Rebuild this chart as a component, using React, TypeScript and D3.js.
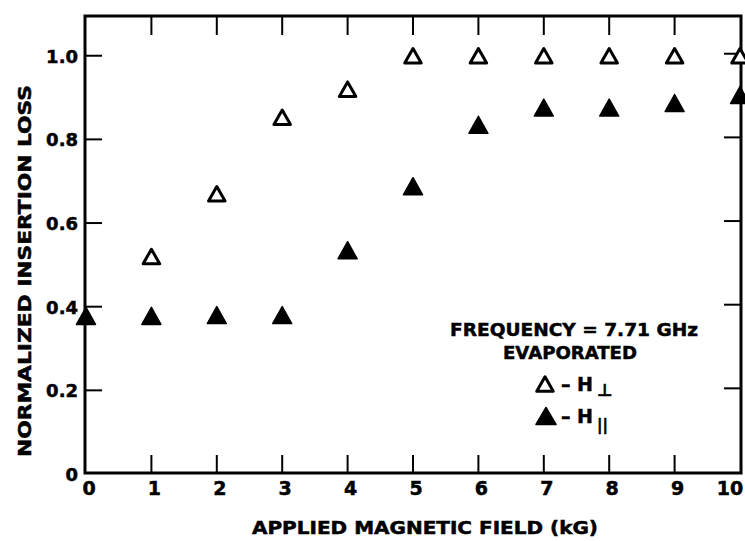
import React from "react";
import * as d3 from "d3";

const fieldKG = [0, 1, 2, 3, 4, 5, 6, 7, 8, 9, 10];
const hPerp = [null, 0.52, 0.67, 0.853, 0.92, 1.0, 1.0, 1.0, 1.0, 1.0, 1.0];
const hPar = [0.378, 0.378, 0.38, 0.38, 0.535, 0.688, 0.835, 0.876, 0.876, 0.887, 0.906];
const xTicks = [0, 1, 2, 3, 4, 5, 6, 7, 8, 9, 10];
const yTicks = [0, 0.2, 0.4, 0.6, 0.8, 1.0];
const yTickLabels = ["0", "0.2", "0.4", "0.6", "0.8", "1.0"];

const W = 745;
const H = 541;
const FONT = "'DejaVu Sans', 'Liberation Sans', Arial, sans-serif";

function tri(cx: number, cy: number, w: number, h: number): string {
  const p = d3.path();
  p.moveTo(cx, cy - h / 2);
  p.lineTo(cx + w / 2, cy + h / 2);
  p.lineTo(cx - w / 2, cy + h / 2);
  p.closePath();
  return p.toString();
}

export default function App() {
  const x = d3.scaleLinear().domain([0, 10]).range([86, 740]);
  const y = d3.scaleLinear().domain([0, 1.095]).range([474, 16]);
  const left = 85;
  const right = 741;
  const top = 16;
  const bottom = 473;
  const heavy = { stroke: "#000", strokeWidth: 0.5 };

  return (
    <svg width={W} height={H} style={{ position: "absolute", left: 0, top: 0, background: "#fff" }}>
      <rect x={0} y={0} width={W} height={H} fill="#fff" />
      {/* frame */}
      <rect x={left} y={top} width={right - left} height={bottom - top} fill="none" stroke="#000" strokeWidth={3} />
      {/* x ticks */}
      {xTicks.slice(1, -1).map((t) => (
        <g key={"xt" + t}>
          <line x1={x(t)} x2={x(t)} y1={bottom} y2={bottom - 18} stroke="#000" strokeWidth={2} />
          <line x1={x(t)} x2={x(t)} y1={top} y2={top + 19} stroke="#000" strokeWidth={2} />
        </g>
      ))}
      {xTicks.map((t) => (
        <text key={"xl" + t} x={Math.min(x(t) + 3, 730)} y={495} textAnchor="middle" fontFamily={FONT} fontWeight="bold" fontSize={19} fill="#000" {...heavy}>
          {t}
        </text>
      ))}
      {/* y ticks */}
      {yTicks.slice(1).map((t) => (
        <g key={"yt" + t}>
          <line x1={left} x2={left + 17} y1={y(t)} y2={y(t)} stroke="#000" strokeWidth={2} />
          <line x1={right} x2={right - 17} y1={y(t) - 2} y2={y(t) - 2} stroke="#000" strokeWidth={2} />
        </g>
      ))}
      {yTicks.map((t, i) => (
        <text key={"yl" + t} x={78} y={y(t) + 7} textAnchor="end" fontFamily={FONT} fontWeight="bold" fontSize={18} fill="#000" {...heavy}>
          {yTickLabels[i]}
        </text>
      ))}
      {/* axis titles */}
      <text x={425} y={534} textAnchor="middle" fontFamily={FONT} fontWeight="bold" fontSize={17} fill="#000" textLength={346} lengthAdjust="spacingAndGlyphs" {...heavy}>
        APPLIED MAGNETIC FIELD (kG)
      </text>
      <text
        transform={`translate(31, 271) rotate(-90)`}
        textAnchor="middle"
        fontFamily={FONT}
        fontWeight="bold"
        fontSize={17}
        fill="#000"
        textLength={372}
        lengthAdjust="spacingAndGlyphs"
        {...heavy}
      >
        NORMALIZED INSERTION LOSS
      </text>
      {/* data */}
      {fieldKG.map((f, i) =>
        hPerp[i] == null ? null : (
          <path key={"p" + f} d={tri(x(f), y(hPerp[i] as number), 16.5, 14.5)} fill="#fff" stroke="#000" strokeWidth={3} strokeLinejoin="round" />
        )
      )}
      {fieldKG.map((f, i) => (
        <path key={"f" + f} d={tri(x(f), y(hPar[i]), 19, 17)} fill="#000" stroke="#000" strokeWidth={1.5} strokeLinejoin="round" />
      ))}
      {/* legend */}
      <g fontFamily={FONT} fontWeight="bold" fill="#000" {...heavy}>
        <text x={574} y={336} textAnchor="middle" fontSize={18} textLength={248} lengthAdjust="spacingAndGlyphs">FREQUENCY = 7.71 GHz</text>
        <text x={570} y={359} textAnchor="middle" fontSize={18} textLength={134} lengthAdjust="spacingAndGlyphs">EVAPORATED</text>
        <path d={tri(545, 384, 16.5, 14.5)} fill="#fff" stroke="#000" strokeWidth={3} strokeLinejoin="round" />
        <text x={561} y={391} fontSize={19}>
          – H<tspan dx={4} dy={5} fontSize={17}>⊥</tspan>
        </text>
        <path d={tri(546, 416, 20, 17)} fill="#000" stroke="#000" strokeWidth={1.5} strokeLinejoin="round" />
        <text x={561} y={423} fontSize={19}>
          – H<tspan dx={4} dy={7} fontSize={15}>||</tspan>
        </text>
      </g>
    </svg>
  );
}
